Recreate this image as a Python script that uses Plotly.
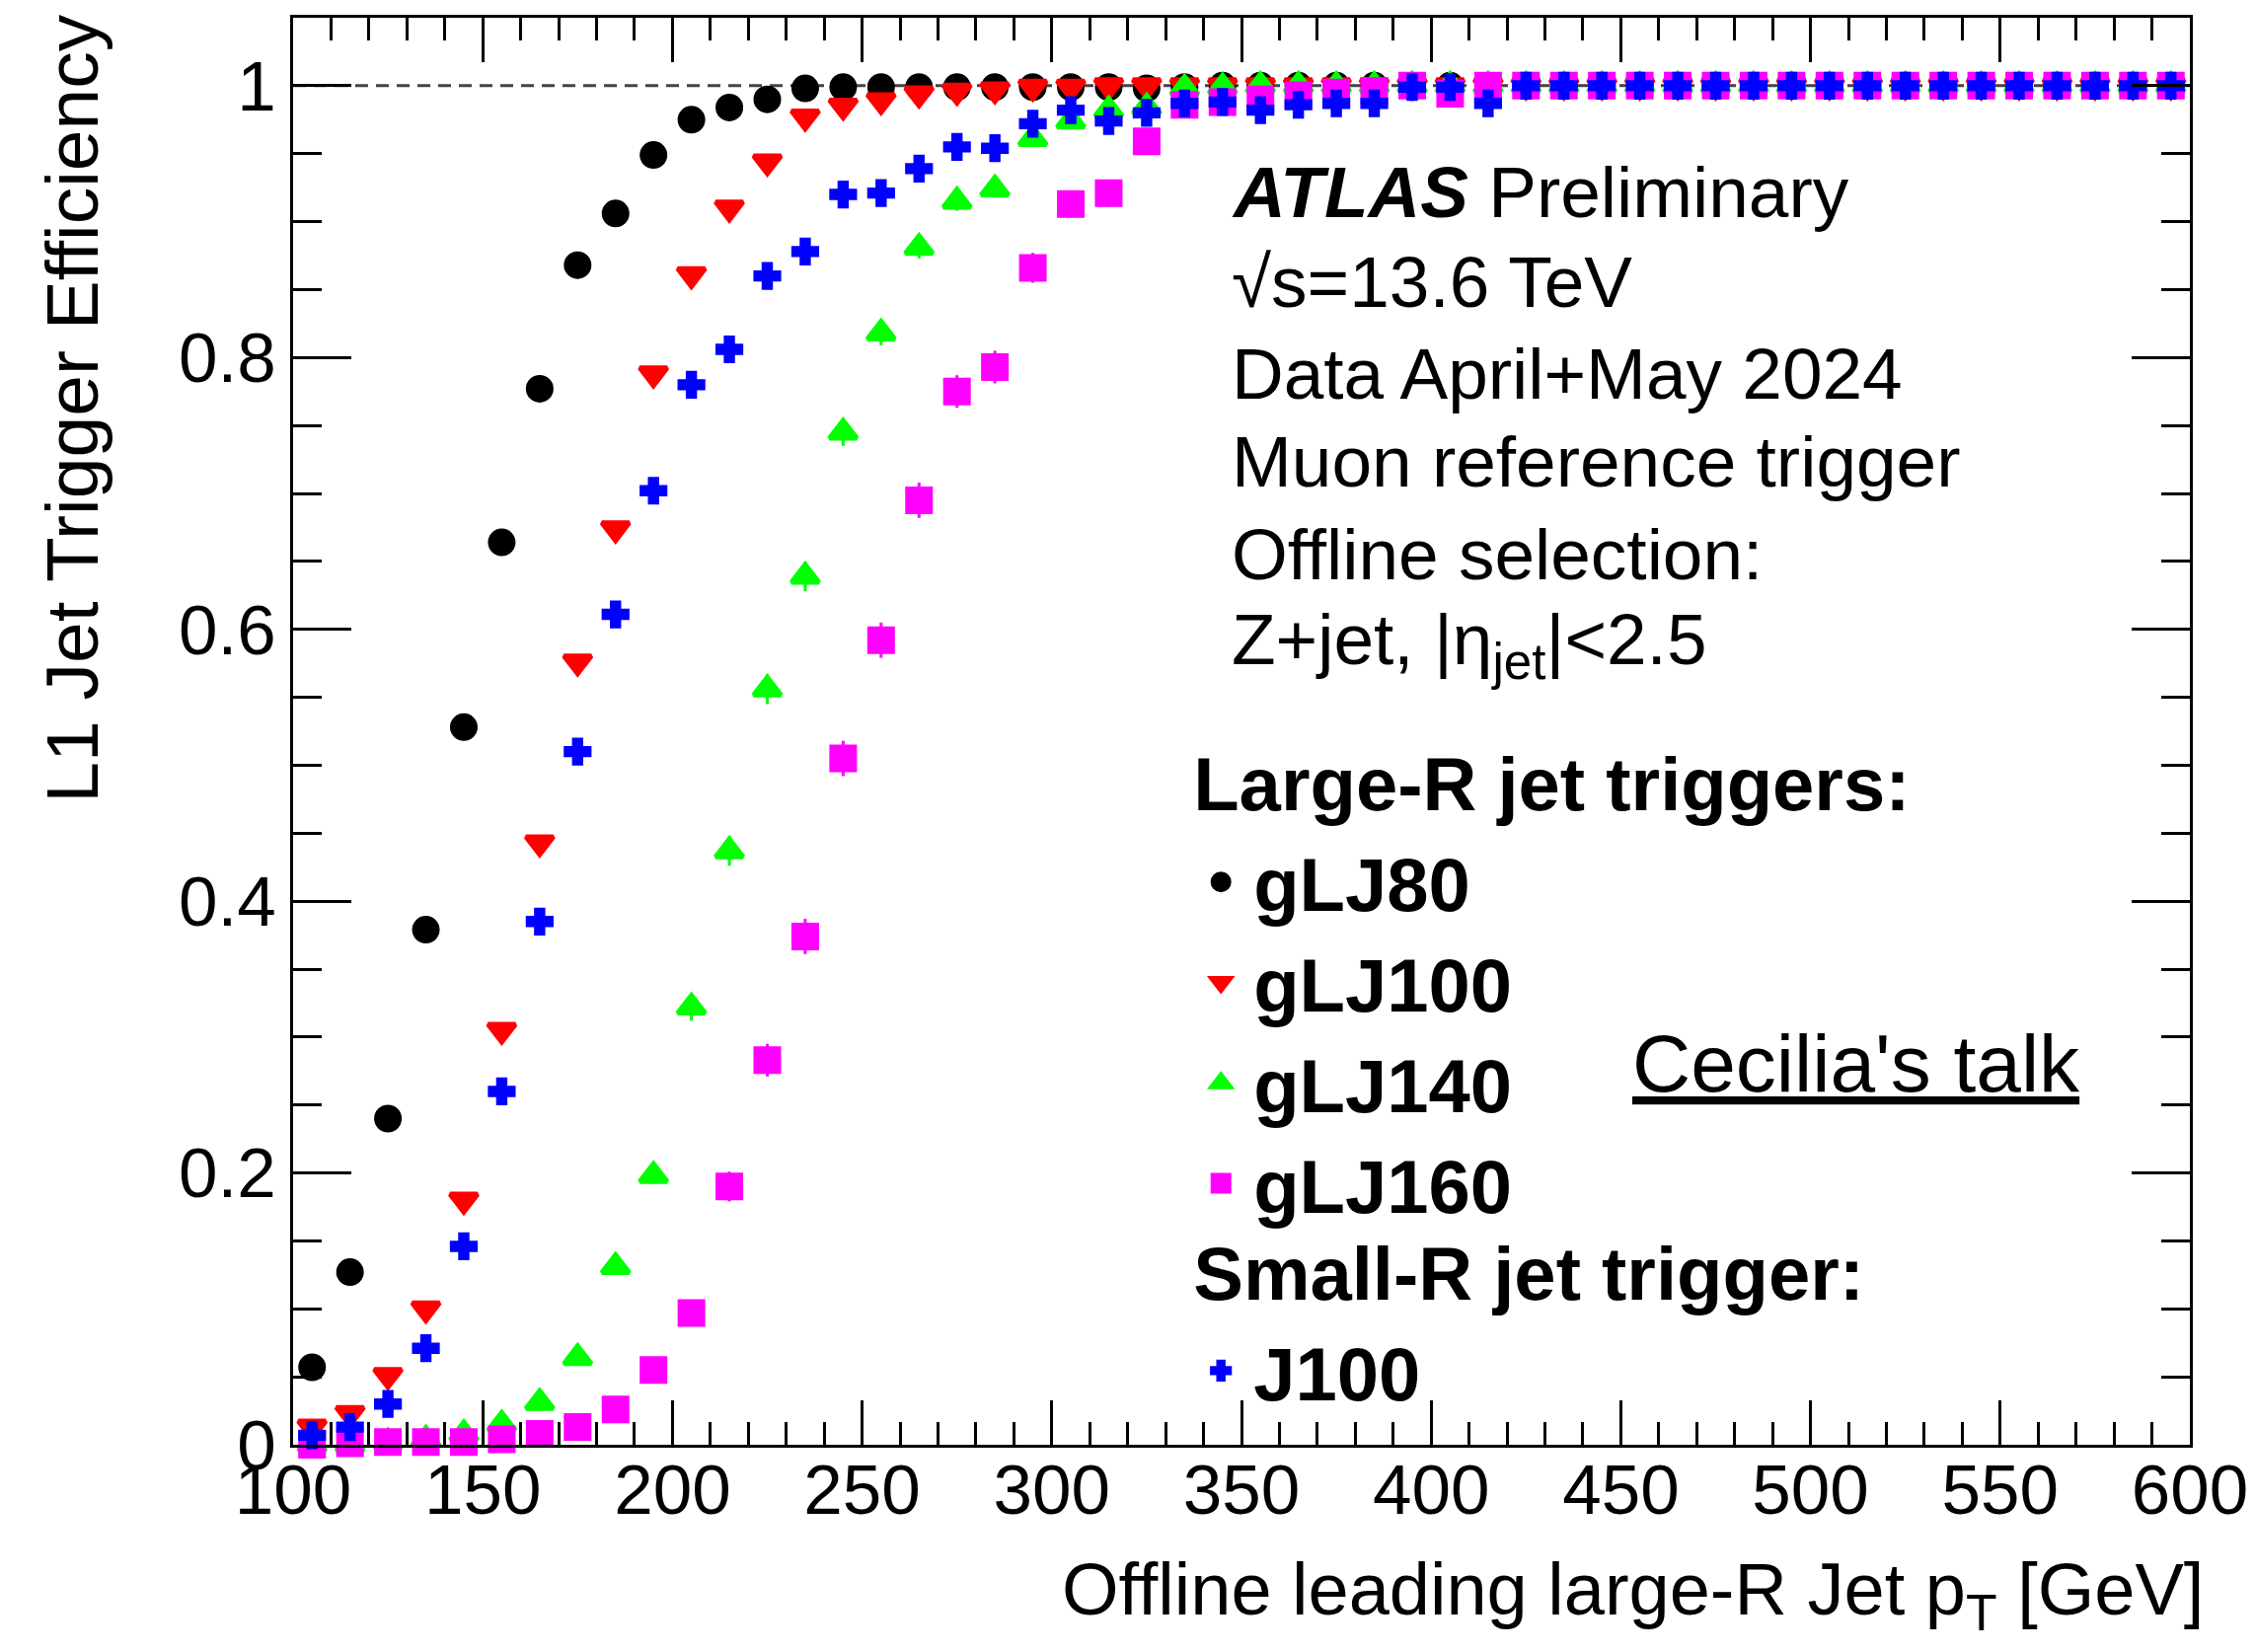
import plotly.graph_objects as go

# ---------------- data ----------------
pt_centers = [105, 115, 125, 135, 145, 155, 165, 175, 185, 195,
              205, 215, 225, 235, 245, 255, 265, 275, 285, 295,
              305, 315, 325, 335, 345, 355, 365, 375, 385, 395,
              405, 415, 425, 435, 445, 455, 465, 475, 485, 495,
              505, 515, 525, 535, 545, 555, 565, 575, 585, 595]

eff_gLJ80 = [0.057, 0.127, 0.240, 0.379, 0.528, 0.664, 0.777, 0.868, 0.906, 0.949,
             0.975, 0.984, 0.990, 0.998, 0.999, 0.999, 0.999, 0.999, 0.999, 0.999,
             0.999, 0.999, 0.998, 0.999, 1.000, 1.000, 1.000, 1.000, 1.000, 1.000,
             1.000, 1.000, 1.000, 1.000, 1.000, 1.000, 1.000, 1.000, 1.000, 1.000,
             1.000, 1.000, 1.000, 1.000, 1.000, 1.000, 1.000, 1.000, 1.000, 1.000]

eff_gLJ100 = [0.013, 0.023, 0.051, 0.100, 0.180, 0.305, 0.443, 0.576, 0.674, 0.788,
              0.861, 0.910, 0.944, 0.977, 0.985, 0.989, 0.994, 0.996, 0.997, 0.999,
              0.999, 1.000, 1.000, 1.000, 1.000, 1.000, 1.000, 1.000, 1.000, 1.000,
              1.000, 1.000, 1.000, 1.000, 1.000, 1.000, 1.000, 1.000, 1.000, 1.000,
              1.000, 1.000, 1.000, 1.000, 1.000, 1.000, 1.000, 1.000, 1.000, 1.000]

eff_gLJ140 = [0.000, 0.000, 0.002, 0.004, 0.008, 0.015, 0.031, 0.064, 0.131, 0.198,
              0.322, 0.437, 0.556, 0.639, 0.745, 0.818, 0.881, 0.915, 0.924, 0.961,
              0.974, 0.982, 0.984, 0.998, 0.999, 1.000, 1.000, 1.000, 1.000, 1.000,
              1.000, 1.000, 1.000, 1.000, 1.000, 1.000, 1.000, 1.000, 1.000, 1.000,
              1.000, 1.000, 1.000, 1.000, 1.000, 1.000, 1.000, 1.000, 1.000, 1.000]
err_gLJ140 = [0.0, 0.0, 0.0, 0.0, 0.0, 0.0, 0.0, 0.0, 0.0, 0.006,
              0.010, 0.011, 0.011, 0.011, 0.010, 0.009, 0.008, 0.007, 0.006, 0.005,
              0.004, 0.003, 0.003, 0.0, 0.0, 0.0, 0.0, 0.0, 0.0, 0.0,
              0.0, 0.0, 0.0, 0.0, 0.0, 0.0, 0.0, 0.0, 0.0, 0.0,
              0.0, 0.0, 0.0, 0.0, 0.0, 0.0, 0.0, 0.0, 0.0, 0.0]

eff_gLJ160 = [0.000, 0.001, 0.002, 0.002, 0.002, 0.004, 0.008, 0.013, 0.026, 0.055,
              0.097, 0.190, 0.283, 0.374, 0.505, 0.592, 0.695, 0.775, 0.793, 0.866,
              0.913, 0.921, 0.959, 0.986, 0.988, 0.990, 0.993, 0.995, 0.996, 1.000,
              0.994, 1.000, 1.000, 1.000, 1.000, 1.000, 1.000, 1.000, 1.000, 1.000,
              1.000, 1.000, 1.000, 1.000, 1.000, 1.000, 1.000, 1.000, 1.000, 1.000]
err_gLJ160 = [0.0, 0.0, 0.0, 0.0, 0.0, 0.0, 0.0, 0.0, 0.0, 0.006,
              0.009, 0.011, 0.012, 0.013, 0.013, 0.013, 0.013, 0.012, 0.012, 0.011,
              0.010, 0.010, 0.008, 0.005, 0.004, 0.0, 0.0, 0.0, 0.0, 0.0,
              0.0, 0.0, 0.0, 0.0, 0.0, 0.0, 0.0, 0.0, 0.0, 0.0,
              0.0, 0.0, 0.0, 0.0, 0.0, 0.0, 0.0, 0.0, 0.0, 0.0]

eff_J100 = [0.007, 0.013, 0.030, 0.071, 0.146, 0.260, 0.385, 0.510, 0.611, 0.702,
            0.780, 0.806, 0.860, 0.878, 0.920, 0.921, 0.939, 0.955, 0.954, 0.972,
            0.982, 0.974, 0.980, 0.987, 0.988, 0.982, 0.986, 0.987, 0.987, 0.999,
            0.999, 0.987, 1.000, 1.000, 1.000, 1.000, 1.000, 1.000, 1.000, 1.000,
            1.000, 1.000, 1.000, 1.000, 1.000, 1.000, 1.000, 1.000, 1.000, 1.000]

x_range = [100, 600]
y_range = [0, 1.05]
full_efficiency = 1.0

FONT = "Liberation Sans, Arial, Helvetica, sans-serif"
BOLD_LEGEND_FONT = dict(family=FONT, size=76, color="black", weight="bold")

series = [
    # name, values, errors, symbol, size, line width, colour, legend, group title
    ("gLJ80", eff_gLJ80, None, "circle", 23, 5, "#000000", "legend", "Large-R jet triggers:"),
    ("gLJ100", eff_gLJ100, None, "triangle-down", 24, 5, "#ff0000", "legend", None),
    ("gLJ140", eff_gLJ140, err_gLJ140, "triangle-up", 24, 5, "#00ff00", "legend", None),
    ("gLJ160", eff_gLJ160, err_gLJ160, "square", 23, 5, "#ff00ff", "legend", None),
    ("J100", eff_J100, None, "cross", 21, 3, "#0000ff", "legend2", "Small-R jet trigger:"),
]

fig = go.Figure()
for name, vals, errs, sym, size, lw, col, leg, gtitle in series:
    kw = {}
    if errs is not None:
        kw["error_y"] = dict(type="data", array=errs, visible=True,
                             color=col, thickness=3, width=0)
    if gtitle:
        kw["legendgrouptitle"] = dict(text=gtitle, font=BOLD_LEGEND_FONT)
    fig.add_trace(go.Scatter(
        x=pt_centers, y=vals, mode="markers", name=name,
        legend=leg, legendgroup=leg,
        marker=dict(symbol=sym, size=size, color=col,
                    line=dict(color=col, width=lw)),
        cliponaxis=False,
        **kw))

fig.add_shape(type="line", xref="x", yref="y",
              x0=x_range[0], x1=x_range[1], y0=full_efficiency, y1=full_efficiency,
              line=dict(color="#444444", width=3, dash="13px,8px"), layer="below")

axis_common = dict(
    showline=True, linecolor="black", linewidth=3, mirror="allticks",
    ticks="inside", tickcolor="black", tickwidth=2.5,
    showgrid=False, zeroline=False,
    tickfont=dict(family=FONT, size=71, color="black"),
)

fig.update_xaxes(range=x_range, dtick=50, tick0=100, ticklen=45,
                 ticklabelstandoff=-18, ticklabeloverflow="allow",
                 minor=dict(dtick=10, ticks="inside", ticklen=23, tickwidth=2.5,
                            tickcolor="black", showgrid=False),
                 **axis_common)
fig.update_yaxes(range=y_range, dtick=0.2, tick0=0, ticklen=59,
                 minor=dict(dtick=0.05, ticks="inside", ticklen=29, tickwidth=2.5,
                            tickcolor="black", showgrid=False),
                 **axis_common)


def ann(text, x, y, size=73, xanchor="left", yanchor="middle", **kw):
    fig.add_annotation(text=text, x=x, y=y, xref="paper", yref="paper",
                       xanchor=xanchor, yanchor=yanchor, showarrow=False,
                       font=dict(family=FONT, size=size, color="black"), **kw)


TX = 0.4940
ann("<b><i>ATLAS</i></b> Preliminary", TX, 0.8779)
ann("√s=13.6 TeV", TX, 0.8150)
ann("Data April+May 2024", TX, 0.7509)
ann("Muon reference trigger", TX, 0.6888)
ann("Offline selection:", TX, 0.6239)
ann("Z+jet, |η<sub>jet</sub>|<2.5", TX, 0.5611)
ann("<u>Cecilia's talk</u>", 0.7049, 0.2675, size=82)
ann("L1 Jet Trigger Efficiency", -0.1164, 1.0035, size=75,
    xanchor="center", yanchor="top", textangle=-90)
ann("Offline leading large-R Jet p<sub>T</sub> [GeV]", 1.0083, -0.1053, size=74,
    xanchor="right")

legend_common = dict(xanchor="left", yanchor="top",
                     bgcolor="rgba(0,0,0,0)", borderwidth=0,
                     traceorder="grouped", tracegroupgap=0, itemsizing="trace",
                     itemwidth=56, font=BOLD_LEGEND_FONT, itemclick=False)

fig.update_layout(
    width=2277, height=1666,
    margin=dict(l=289, r=58, t=7, b=210),
    paper_bgcolor="white", plot_bgcolor="white",
    showlegend=True,
    legend=dict(x=0.472, y=0.5035, **legend_common),
    legend2=dict(x=0.472, y=0.1610, **legend_common),
)

fig.write_html("out.html")
